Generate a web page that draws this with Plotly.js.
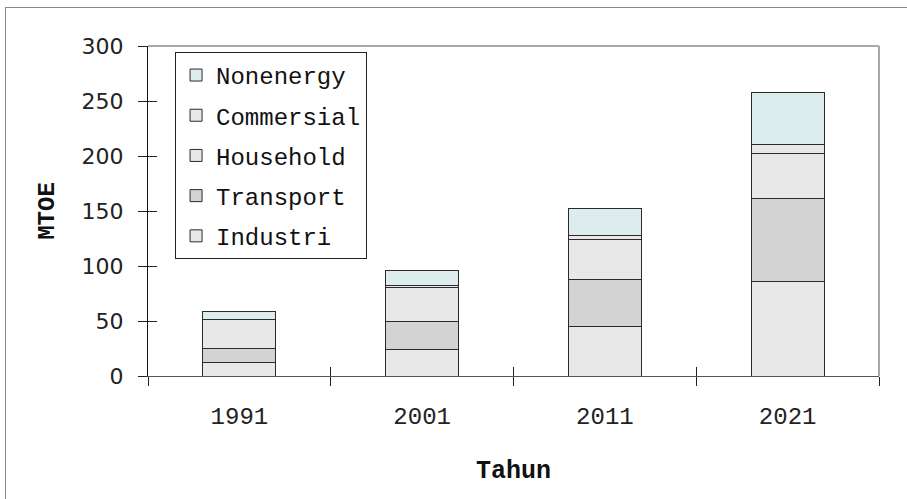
<!DOCTYPE html>
<html>
<head>
<meta charset="utf-8">
<script src="https://cdn.plot.ly/plotly-3.0.1.min.js"></script>
<style>
  html, body { margin: 0; padding: 0; background: #fff; overflow: hidden; }
  #wrap { position: relative; width: 907px; height: 499px; }
  #frame { position: absolute; left: 5px; top: 7px; width: 920px; height: 520px; border: 1px solid #8a8a8a; box-sizing: border-box; pointer-events: none; }
  #chart { position: absolute; left: 0; top: 0; width: 907px; height: 499px; }
</style>
</head>
<body>
<div id="wrap">
  <div id="chart"></div>
  <div id="frame"></div>
</div>
<script>
// ---- data (MTOE) ----
const years      = ["1991", "2001", "2011", "2021"];
const industri   = [12.4, 24.5, 44.8, 85.5];
const transport  = [12.8, 24.6, 42.5, 76.0];
const household  = [25.8, 31.2, 36.6, 41.2];
const commersial = [0.6, 2.4, 4.0, 7.6];
const nonenergy  = [6.6, 13.0, 24.6, 47.6];
const seriesNames = ["Industri", "Transport", "Household", "Commersial", "Nonenergy"];
const yTicks = [0, 50, 100, 150, 200, 250, 300];

const seriesValues = [industri, transport, household, commersial, nonenergy];
const fills = ["#e8e8e8", "#d3d3d3", "#e8e8e8", "#e8e8e8", "#ddeded"];

const traces = seriesValues.map((vals, i) => ({
  type: "bar",
  name: seriesNames[i],
  x: years,
  y: vals,
  legendgroup: "g" + i,
  legendrank: 1000 - i,
  marker: { color: fills[i], line: { color: "#2a2a2a", width: 1 } },
  hoverinfo: "x+y+name"
}));

// invisible helper trace on the overlay axes so their inner tick halves get drawn
traces.push({
  type: "scatter", mode: "none", x: years, y: industri,
  xaxis: "x2", yaxis: "y2", showlegend: false, hoverinfo: "skip"
});

const mono = "Liberation Mono, Courier New, monospace";

const layout = {
  width: 907,
  height: 499,
  margin: { l: 148, r: 28, t: 46, b: 123 },
  paper_bgcolor: "rgba(0,0,0,0)",
  plot_bgcolor: "#ffffff",
  barmode: "stack",
  bargap: 0.6,
  showlegend: true,
  legend: {
    x: 0.037, y: 0.982, xanchor: "left", yanchor: "top",
    bgcolor: "#ffffff",
    bordercolor: "#222222",
    borderwidth: 1,
    traceorder: "grouped",
    tracegroupgap: 6,
    font: { family: mono, size: 24, color: "#111111" }
  },
  xaxis: {
    type: "category",
    tickson: "boundaries",
    ticks: "outside",
    ticklen: 9,
    tickcolor: "#222222",
    showline: true,
    linecolor: "#555555",
    linewidth: 1,
    showgrid: false,
    zeroline: false,
    ticklabelstandoff: 18,
    tickfont: { family: mono, size: 24, color: "#222222" },
    title: { text: "Tahun", font: { family: mono, size: 25, weight: "bold", color: "#111111" }, standoff: 30 }
  },
  xaxis2: {
    type: "category",
    overlaying: "x",
    anchor: "y",
    range: [-0.5, years.length - 0.5],
    tickson: "boundaries",
    ticks: "inside",
    ticklen: 9,
    tickcolor: "#222222",
    showticklabels: false,
    showline: false,
    showgrid: false,
    zeroline: false,
    fixedrange: true
  },
  yaxis: {
    range: [yTicks[0], yTicks[yTicks.length - 1]],
    tickvals: yTicks,
    ticks: "outside",
    ticklen: 9,
    tickcolor: "#222222",
    showline: true,
    linecolor: "#111111",
    linewidth: 1,
    showgrid: false,
    zeroline: false,
    ticklabelstandoff: 10,
    tickfont: { family: "DejaVu Sans, Verdana, sans-serif", size: 22, color: "#222222" },
    title: { text: "MTOE", font: { family: mono, size: 24, weight: "bold", color: "#111111" }, standoff: 20 }
  },
  yaxis2: {
    overlaying: "y",
    anchor: "x",
    side: "left",
    range: [yTicks[0], yTicks[yTicks.length - 1]],
    tickmode: "linear",
    tick0: yTicks[0],
    dtick: yTicks[1] - yTicks[0],
    ticks: "inside",
    ticklen: 9,
    tickwidth: 1,
    tickcolor: "#222222",
    showticklabels: false,
    showline: false,
    showgrid: false,
    zeroline: false,
    fixedrange: true
  },
  shapes: [
    { type: "line", xref: "paper", yref: "paper", x0: 0, x1: 1, y0: 1, y1: 1, line: { color: "#a8a8a8", width: 2 } },
    { type: "line", xref: "paper", yref: "paper", x0: 1, x1: 1, y0: 0, y1: 1, line: { color: "#a8a8a8", width: 2 } }
  ]
};

Plotly.newPlot("chart", traces, layout, { displayModeBar: false, staticPlot: true });
</script>
</body>
</html>
